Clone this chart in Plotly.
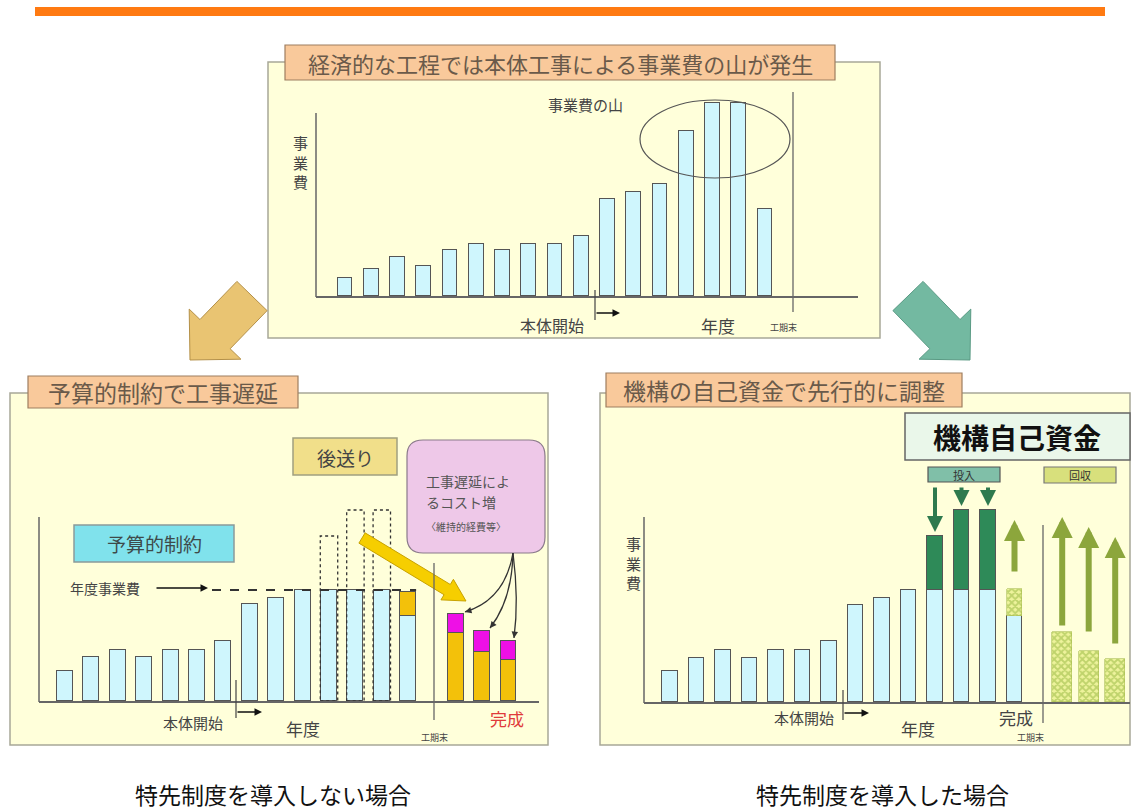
import math
import plotly.graph_objects as go

W, H = 1136, 812
FONT = "Noto Sans CJK JP"


def px(x):
    return x / W


def py(y):
    return 1 - y / H


# ---------------- data ----------------
top_years = list(range(1, 18))
top_cost = [18, 27, 39, 30, 46, 52, 46, 52, 52, 60, 97, 104, 112, 165, 193, 193, 87]

years14 = list(range(1, 15))
left_cost = [30, 44, 51, 44, 51, 51, 60, 97, 103, 111, 111, 111, 111, 85]
left_carry_years = [14]
left_carry = [24]
left_ghost_years = [11, 12, 13]
left_ghost_cost = [165, 191, 191]
late_years = [15.8, 16.8, 17.8]
left_late_cost = [68, 49, 41]
left_late_extra = [19, 21, 19]
budget_level = 111

right_cost = [31, 44, 52, 44, 52, 52, 61, 97, 104, 112, 112, 112, 112, 86]
right_own_years = [11, 12, 13]
right_own = [54, 80, 80]
right_recover_years = [14] + late_years
right_recover = [27, 70, 51, 43]

BLUE = "#CFF6FD"
EDGE = "#555555"

fig = go.Figure()

# top panel bars
fig.add_trace(go.Bar(x=top_years, y=top_cost, width=0.57, marker=dict(color=BLUE, line=dict(color=EDGE, width=1)),
                     xaxis="x", yaxis="y", showlegend=False))
# left panel bars
fig.add_trace(go.Bar(x=years14, y=left_cost, width=0.6, marker=dict(color=BLUE, line=dict(color=EDGE, width=1)),
                     xaxis="x2", yaxis="y2", showlegend=False))
fig.add_trace(go.Bar(x=left_carry_years, y=left_carry, width=0.6, marker=dict(color="#F3C10A", line=dict(color=EDGE, width=1)),
                     xaxis="x2", yaxis="y2", showlegend=False))
fig.add_trace(go.Bar(x=late_years, y=left_late_cost, width=0.6, marker=dict(color="#F3C10A", line=dict(color=EDGE, width=1)),
                     xaxis="x2", yaxis="y2", showlegend=False))
fig.add_trace(go.Bar(x=late_years, y=left_late_extra, width=0.6, marker=dict(color="#EE10E6", line=dict(color=EDGE, width=1)),
                     xaxis="x2", yaxis="y2", showlegend=False))
# right panel bars
fig.add_trace(go.Bar(x=years14, y=right_cost, width=0.6, marker=dict(color=BLUE, line=dict(color=EDGE, width=1)),
                     xaxis="x3", yaxis="y3", showlegend=False))
fig.add_trace(go.Bar(x=right_own_years, y=right_own, width=0.6, marker=dict(color="#2E8A58", line=dict(color=EDGE, width=1)),
                     xaxis="x3", yaxis="y3", showlegend=False))
fig.add_trace(go.Bar(x=right_recover_years, y=right_recover, width=[0.6, 0.75, 0.75, 0.75],
                     marker=dict(color="#E4EE8C", line=dict(color="#A8BC50", width=0.6),
                                 pattern=dict(shape="x", fgcolor="#8FB33A", bgcolor="#EEF39C", size=5, solidity=0.6)),
                     xaxis="x3", yaxis="y3", showlegend=False))


def xr(p0, p1, c1, step):
    return [1 + (p0 - c1) / step, 1 + (p1 - c1) / step]


xcommon = dict(showgrid=False, zeroline=False, showticklabels=False, ticks="",
               showline=True, linecolor="#666", linewidth=1.5, fixedrange=True)
ycommon = dict(showgrid=False, zeroline=False, showticklabels=False, ticks="",
               showline=False, fixedrange=True)

# y axes: 1 data unit = 1 pixel, domains reach above the drawn axis line so tall marks are not clipped
layout = dict(
    width=W, height=H, margin=dict(l=0, r=0, t=0, b=0),
    paper_bgcolor="white", plot_bgcolor="rgba(0,0,0,0)",
    barmode="stack", bargap=0,
    xaxis=dict(domain=[px(316), px(858)], range=xr(316, 858, 345, 26.25), anchor="y", **xcommon),
    yaxis=dict(domain=[py(296), py(60)], range=[0, 236], anchor="x", **ycommon),
    xaxis2=dict(domain=[px(39), px(539)], range=xr(39, 539, 65, 26.4), anchor="y2", **xcommon),
    yaxis2=dict(domain=[py(701), py(440)], range=[0, 261], anchor="x2", **ycommon),
    xaxis3=dict(domain=[px(644), px(1130)], range=xr(644, 1130, 670, 26.5), anchor="y3", **xcommon),
    yaxis3=dict(domain=[py(702), py(440)], range=[0, 262], anchor="x3", **ycommon),
)

shapes = []
ann = []


def rect(x0, y0, x1, y1, fill, line="#999", lw=1.2, layer="below"):
    shapes.append(dict(type="rect", xref="paper", yref="paper", x0=px(x0), x1=px(x1), y0=py(y1), y1=py(y0),
                       fillcolor=fill, line=dict(color=line, width=lw), layer=layer))


def vline(x, y0, y1, color="#555", w=1.2):
    shapes.append(dict(type="line", xref="paper", yref="paper", x0=px(x), x1=px(x), y0=py(y0), y1=py(y1),
                       line=dict(color=color, width=w)))


def txt(x, y, s, size, color="#444", xanchor="center", bold=False):
    ann.append(dict(x=px(x), y=py(y), xref="paper", yref="paper", text=f"<b>{s}</b>" if bold else s,
                    showarrow=False, font=dict(size=size, color=color, family=FONT),
                    xanchor=xanchor, yanchor="middle", align="left"))


def arr(x0, y0, x1, y1, color="#111", w=1.5, head=2, size=1.0):
    ann.append(dict(x=px(x1), y=py(y1), xref="paper", yref="paper", ax=x0 - x1, ay=y0 - y1,
                    axref="pixel", ayref="pixel", showarrow=True, arrowhead=head, arrowsize=size,
                    arrowwidth=w, arrowcolor=color, text=""))


def poly_arrow(tail, tip, sw, hw, hl, fill, line):
    dx, dy = tip[0] - tail[0], tip[1] - tail[1]
    L = math.hypot(dx, dy)
    ux, uy = dx / L, dy / L
    nx, ny = -uy, ux
    sx, sy = tip[0] - ux * hl, tip[1] - uy * hl
    pts = [(tail[0] + nx * sw, tail[1] + ny * sw), (sx + nx * sw, sy + ny * sw), (sx + nx * hw, sy + ny * hw), tip,
           (sx - nx * hw, sy - ny * hw), (sx - nx * sw, sy - ny * sw), (tail[0] - nx * sw, tail[1] - ny * sw)]
    path = "M " + " L ".join(f"{px(a):.5f},{py(b):.5f}" for a, b in pts) + " Z"
    shapes.append(dict(type="path", xref="paper", yref="paper", path=path, fillcolor=fill,
                       line=dict(color=line, width=1)))


def rounded(x0, y0, x1, y1, r, fill, line):
    p = [("M", (x0 + r, y0)), ("L", (x1 - r, y0)), ("Q", (x1, y0), (x1, y0 + r)), ("L", (x1, y1 - r)),
         ("Q", (x1, y1), (x1 - r, y1)), ("L", (x0 + r, y1)), ("Q", (x0, y1), (x0, y1 - r)), ("L", (x0, y0 + r)),
         ("Q", (x0, y0), (x0 + r, y0))]
    s = ""
    for item in p:
        s += item[0] + " " + " ".join(f"{px(a):.5f},{py(b):.5f}" for a, b in item[1:]) + " "
    shapes.append(dict(type="path", xref="paper", yref="paper", path=s + "Z", fillcolor=fill,
                       line=dict(color=line, width=1.2)))


# orange stripe
rect(35, 7, 1105, 16, "#FF7A12", line="#FF7A12", lw=0)

# ---------- top panel ----------
rect(268, 62, 880, 338, "#FFFFDA", line="#A8A898", lw=1.5)
rect(285, 45, 835, 80, "#F9C99B", line="#9E7E60", lw=1.2)
txt(560, 63, "経済的な工程では本体工事による事業費の山が発生", 22, "#6A5A4A")
vline(316, 113, 297, "#666", 1.5)
shapes.append(dict(type="circle", xref="paper", yref="paper", x0=px(640), x1=px(790), y0=py(178), y1=py(100),
                   line=dict(color="#555", width=1.2)))
txt(585, 104, "事業費の山", 15, "#444")
txt(300, 162, "事<br>業<br>費", 15, "#444")
vline(793, 92, 312, "#666", 1.3)
vline(595, 290, 320, "#444", 1.2)
arr(595, 313, 620, 313, "#111", 1.5, 2, 1.0)
txt(552, 325, "本体開始", 16, "#444")
txt(718, 325, "年度", 17, "#444")
txt(783, 328, "工期末", 9, "#444")

# big arrows between panels
poly_arrow((252, 296), (190, 360), 21, 36, 36, "#E9C472", "#B49048")
poly_arrow((908, 296), (970, 360), 21, 36, 36, "#73B9A1", "#5A9A84")

# ---------- left panel ----------
rect(10, 393, 548, 745, "#FFFFDA", line="#A8A898", lw=1.5)
rect(28, 376, 298, 408, "#F9C99B", line="#9E7E60", lw=1.2)
txt(163, 392, "予算的制約で工事遅延", 23, "#6A5A4A")
vline(39, 517, 702, "#666", 1.5)
rect(74, 525, 234, 562, "#80E2EC", line="#8A9A9A", lw=1.5)
txt(154, 543, "予算的制約", 19, "#3E4A4A")
rect(293, 438, 397, 475, "#F1DF8A", line="#A0A080", lw=1.5)
txt(345, 457, "後送り", 19, "#444")
rounded(407, 440, 545, 553, 16, "#EEC8E8", "#8A7A8A")
txt(424, 481, "工事遅延によ", 14, "#555", xanchor="left")
txt(424, 502, "るコスト増", 14, "#555", xanchor="left")
txt(424, 526, "〈維持的経費等〉", 10, "#555", xanchor="left")
txt(105, 588, "年度事業費", 14, "#444")
arr(155, 588, 208, 588, "#111", 1.5, 2, 1.0)
shapes.append(dict(type="line", xref="x2", yref="y2", x0=1 + (212 - 65) / 26.4, x1=14.3,
                   y0=budget_level, y1=budget_level, line=dict(color="#333", width=2, dash="dash")))
for yr, h in zip(left_ghost_years, left_ghost_cost):
    shapes.append(dict(type="rect", xref="x2", yref="y2", x0=yr - 0.33, x1=yr + 0.33, y0=0, y1=h,
                       line=dict(color="#333", width=1.3, dash="dot"), fillcolor="rgba(0,0,0,0)"))
poly_arrow((362, 538), (466, 601), 6, 12, 22, "#F6CE00", "#C8A200")
vline(434, 563, 720, "#666", 1.3)
# curved arrows to the extra cost
targets = [(465, 612), (490, 628), (514, 638)]
ctrls = [(505, 600), (512, 600), (519, 600)]
for (ex, ey), (cx, cy) in zip(targets, ctrls):
    path = f"M {px(513):.5f},{py(553):.5f} Q {px(cx):.5f},{py(cy):.5f} {px(ex):.5f},{py(ey):.5f}"
    shapes.append(dict(type="path", xref="paper", yref="paper", path=path, line=dict(color="#333", width=1.3)))
    dx, dy = cx - ex, cy - ey
    L = math.hypot(dx, dy)
    arr(ex + dx / L * 7, ey + dy / L * 7, ex, ey, "#333", 1.3, 2, 1.0)
txt(434, 737, "工期末", 9, "#444")
txt(507, 718, "完成", 17, "#E03A3A")
vline(236, 680, 718, "#444", 1.2)
arr(236, 712, 262, 712, "#111", 1.5, 2, 1.0)
txt(193, 722, "本体開始", 15, "#444")
txt(303, 728, "年度", 17, "#444")

# ---------- right panel ----------
rect(600, 393, 1130, 745, "#FFFFDA", line="#A8A898", lw=1.5)
rect(606, 373, 962, 407, "#F9C99B", line="#9E7E60", lw=1.2)
txt(784, 390, "機構の自己資金で先行的に調整", 23, "#6A5A4A")
vline(644, 517, 703, "#666", 1.5)
rect(905, 413, 1130, 460, "#EAF7EA", line="#666", lw=1.5)
txt(1017, 437, "機構自己資金", 28, "#111", bold=True)
rect(928, 467, 1000, 482, "#80BFA8", line="#555", lw=1.2)
txt(964, 475, "投入", 11, "#333")
rect(1044, 467, 1116, 483, "#D8E07C", line="#777", lw=1.2)
txt(1080, 475, "回収", 11, "#333")
txt(633, 563, "事<br>業<br>費", 15, "#444")
vline(1043, 525, 723, "#666", 1.3)
txt(1030, 737, "工期末", 9, "#444")
txt(1016, 717, "完成", 17, "#444")
vline(843, 690, 720, "#444", 1.2)
arr(843, 713, 869, 713, "#111", 1.5, 2, 1.0)
txt(804, 717, "本体開始", 15, "#444")
txt(918, 728, "年度", 17, "#444")

# down arrows (投入)
for yr, base, extra in zip(right_own_years, [right_cost[i - 1] for i in right_own_years], right_own):
    h = base + extra + 4
    tip_pix = 702 - h
    ann.append(dict(x=yr, y=h, xref="x3", yref="y3", ax=0, ay=486 - tip_pix, axref="pixel", ayref="pixel",
                    showarrow=True, arrowhead=2, arrowsize=0.8, arrowwidth=4, arrowcolor="#2E7A4E", text=""))
# up arrows (回収)
up_tips = [182, 185, 175, 165]
up_tails = [129, 75, 69, 57]
for yr, tip, tail in zip(right_recover_years, up_tips, up_tails):
    ann.append(dict(x=yr, y=tip, xref="x3", yref="y3", ax=0, ay=tip - tail, axref="pixel", ayref="pixel",
                    showarrow=True, arrowhead=2, arrowsize=0.7, arrowwidth=6, arrowcolor="#8CA63C", text=""))

# bottom captions
txt(273, 794, "特先制度を導入しない場合", 23, "#111")
txt(882, 794, "特先制度を導入した場合", 23, "#111")

layout["shapes"] = shapes
layout["annotations"] = ann
fig.update_layout(**layout)
fig.write_html("out.html")
